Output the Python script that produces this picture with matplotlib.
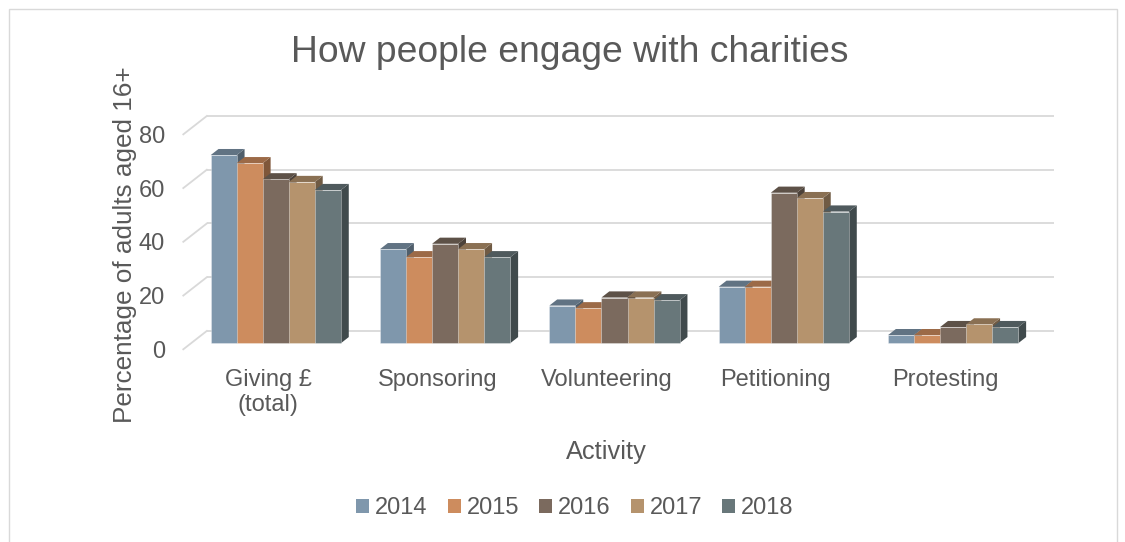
import numpy as np
import matplotlib
matplotlib.use("Agg")
import matplotlib.pyplot as plt
from matplotlib.patches import Polygon, Patch, Rectangle
from matplotlib.colors import to_rgb
import matplotlib.transforms as mtransforms

plt.rcParams['font.family'] = ['Liberation Sans', 'DejaVu Sans']

# ---- data ----
categories = ["Giving £\n(total)", "Sponsoring", "Volunteering", "Petitioning", "Protesting"]
years = ["2014", "2015", "2016", "2017", "2018"]
v2014 = [70, 35, 14, 21, 3]
v2015 = [67, 32, 13, 21, 3]
v2016 = [61, 37, 17, 56, 6]
v2017 = [60, 35, 17, 54, 7]
v2018 = [57, 32, 16, 49, 6]
series = [v2014, v2015, v2016, v2017, v2018]
colors = ['#7F97AC', '#CD8C5E', '#7B6A5E', '#B5936D', '#68777A']
yticks = [0, 20, 40, 60, 80]

TXT = '#595959'
GRID = '#D9D9D9'

W, H = 1125, 542
fig = plt.figure(figsize=(W / 100, H / 100), dpi=100)

# oblique depth vector in data units
ncat = len(categories)
Dx, Dy = 0.1388, 6.83
ymax = 80

left_px, right_px = 183.3, 1053.5
bot_px, top_px = 349.3, 116.0
ax = fig.add_axes([left_px / W, 1 - bot_px / H, (right_px - left_px) / W, (bot_px - top_px) / H])
ax.set_xlim(0, ncat + Dx)
ax.set_ylim(0, ymax + Dy)
for s in ax.spines.values():
    s.set_visible(False)
ax.patch.set_visible(False)

# back wall gridlines and left-wall diagonals
for t in yticks:
    ax.plot([Dx, ncat + Dx], [t + Dy, t + Dy], color=GRID, lw=1.3, zorder=1, clip_on=False,
            solid_capstyle='butt')
    ax.plot([0, Dx], [t, t + Dy], color=GRID, lw=1.3, zorder=1, clip_on=False)


def shade(c, f):
    r, g, b = to_rgb(c)
    return (r * f, g * f, b * f)


bw = 1 / 6.5
fx, fy = Dx / 3, Dy / 3
z = 2
for i in range(ncat):
    for j, vals in enumerate(series):
        v = vals[i]
        x0 = i + 0.75 * bw + j * bw
        col = colors[j]
        front = [(x0 + fx, fy), (x0 + bw + fx, fy), (x0 + bw + fx, v + fy), (x0 + fx, v + fy)]
        top = [(x0 + fx, v + fy), (x0 + bw + fx, v + fy), (x0 + bw + 2 * fx, v + 2 * fy), (x0 + 2 * fx, v + 2 * fy)]
        side = [(x0 + bw + fx, fy), (x0 + bw + 2 * fx, 2 * fy), (x0 + bw + 2 * fx, v + 2 * fy), (x0 + bw + fx, v + fy)]
        ax.add_patch(Polygon(side, closed=True, facecolor=shade(col, 0.62), edgecolor='none', zorder=z, clip_on=False))
        ax.add_patch(Polygon(top, closed=True, facecolor=shade(col, 0.76), edgecolor='none', zorder=z, clip_on=False))
        ax.add_patch(Polygon(front, closed=True, facecolor=col, edgecolor=(1, 1, 1, 0.35), lw=0.6, zorder=z, clip_on=False))
        z += 1

# axes ticks
ax.set_yticks(yticks)
ax.set_yticklabels([str(t) for t in yticks])
ax.tick_params(axis='y', length=0, pad=13, labelsize=17, labelcolor=TXT)
ax.set_xticks(np.arange(ncat) + 0.5)
ax.set_xticklabels(categories, linespacing=1.2)
ax.tick_params(axis='x', length=0, pad=14, labelsize=17, labelcolor=TXT)

trans = mtransforms.blended_transform_factory(ax.transData, ax.transAxes)
ax.text(ncat / 2, (bot_px - 459) / (bot_px - top_px), "Activity", transform=trans,
        ha='center', va='baseline', fontsize=18.3, color=TXT)

fig.text(125 / W, 1 - 245 / H, "Percentage of adults aged 16+", rotation=90,
         ha='center', va='center', fontsize=18.8, color=TXT)

fig.text(569.5 / W, 1 - 62 / H, "How people engage with charities", ha='center', va='baseline',
         fontsize=26.8, color=TXT)

handles = [Patch(facecolor=c, edgecolor='none') for c in colors]
fig.legend(handles, years, loc='center', bbox_to_anchor=(575 / W, 1 - 508 / H), ncol=5,
           frameon=False, fontsize=17, labelcolor=TXT, handlelength=0.55, handleheight=0.55,
           handletextpad=0.25, columnspacing=0.85, borderpad=0, borderaxespad=0)

# chart border
fig.patches.append(Rectangle((8.5 / W, -0.1), (1117 - 8.5) / W, 1.1 - 8.5 / H, transform=fig.transFigure,
                             fill=False, edgecolor=GRID, lw=1.0))

fig.savefig("out.png", dpi=100)
